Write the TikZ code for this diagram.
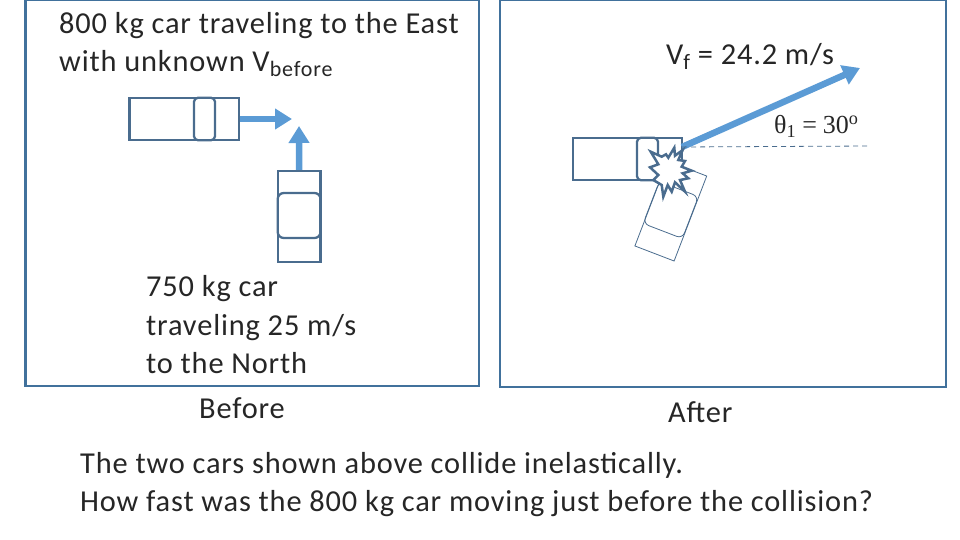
\documentclass[tikz,border=0pt]{standalone}
\usepackage{fontspec}
\setmainfont[LetterSpace=2.8]{Carlito}
\newfontfamily\symbfont{Liberation Serif}
\definecolor{framecol}{HTML}{41719C}
\definecolor{carcol}{HTML}{4A6C8E}
\definecolor{arrowcol}{HTML}{5B9BD5}
\usetikzlibrary{arrows.meta}
\newcommand{\lowtxt}[1]{\raisebox{-5pt}{\fontsize{22}{26}\selectfont\addfontfeature{LetterSpace=4}#1}}
\tikzset{
  txt/.style={anchor=base west,inner sep=0pt,font=\fontsize{30.4}{36}\selectfont,text=black!85},
  frame/.style={draw=framecol,line width=2.5pt,minimum width=#1,inner sep=0pt},
  car/.style={draw=carcol,line width=2.3pt,inner sep=0pt,minimum width=#1},
  thincar/.style={draw=carcol,line width=0.8pt,inner sep=0pt,minimum width=#1},
  velarrow/.style={draw=arrowcol,line width=6.5pt,-{Triangle[length=17pt,width=20pt]}},
}
\begin{document}
\begin{tikzpicture}[x=1pt,y=-1pt]
\useasboundingbox (0,0) rectangle (960,540);

% boxes
\node (before) [frame=453.5pt,minimum height=386pt] at (252.25,193) {};
\node (after) [frame=446pt,minimum height=387pt] at (723,193.5) {};

% cars before
\node (eastcar) [car=109.5pt,minimum height=42.5pt] at (184.25,119) {};
\node (eastwin) [car=21pt,minimum height=42.5pt,rounded corners=4pt] at (204.5,119) {};
\node (northcar) [car=42.8pt,minimum height=90.7pt] at (299.1,216.3) {};
\node (northwin) [car=42.8pt,minimum height=45pt,rounded corners=6pt] at (299.1,215.5) {};
\coordinate (eastend) at (292,119);
\coordinate (northend) at (299,126);
\draw [velarrow] (eastcar.east) -- (eastend);
\draw [velarrow] (northcar.north) -- (northend);

% cars after
\node (tiltcar) [thincar=42pt,minimum height=91pt,rotate=-21] at (670.8,211) {};
\node (tiltwin) [thincar=42pt,minimum height=45pt,rounded corners=6pt,rotate=-21] at (670.8,210) {};
\node (wreck) [car=109.5pt,minimum height=42.5pt] at (627.4,159) {};
\node (wreckwin) [car=21pt,minimum height=42.5pt,rounded corners=4pt] at (647.5,159) {};
\coordinate (hit) at (682,147);
\coordinate (finalend) at (860,68);
\coordinate (levelend) at (868,146);
\draw [velarrow] (hit) -- (finalend);
\draw [dash pattern=on 5pt off 4pt,draw=carcol,line width=0.8pt] (hit) -- (levelend);

% crash star
\draw [draw=carcol,line width=2.5pt,fill=white,line join=miter,miter limit=10]
  (650.7,151.7) -- (661.7,156.7) -- (666,154.3) -- (668.3,157.7) -- (674.3,147.7)
  -- (675,155.7) -- (682.7,150) -- (678.3,160) -- (685,161) -- (681.7,166.7)
  -- (691.7,170.7) -- (682.7,173.3) -- (688.3,178.3) -- (680,180) -- (685,191.7)
  -- (675,182.3) -- (671.7,191.7) -- (667.7,185) -- (663.3,196.7) -- (661.7,185)
  -- (653.3,180) -- (658.3,175) -- (650,167.3) -- (658.3,164.3) -- cycle;

% labels
\node (t1) [txt] at (59,34) {800 kg car traveling to the East};
\node (t2) [txt] at (59,72) {with unknown V\lowtxt{before}};
\node (t3) [txt] at (146,296) {750 kg car};
\node (t4) [txt] at (146,335) {traveling 25 m/s};
\node (t5) [txt] at (146,373) {to the North};
\node (t6) [txt] at (199,418) {Before};
\node (t7) [txt] at (666,65) {V\lowtxt{f} = 24.2 m/s};
\node (t8) [txt,font=\symbfont\fontsize{26}{30}\selectfont] at (774,134) {θ\textsubscript{1}\hspace{6pt}=\hspace{6pt}30\textsuperscript{o}};
\node (t9) [txt] at (668,422) {After};
\node (t10) [txt] at (80,473) {The two cars shown above collide inelastically.};
\node (t11) [txt] at (80,511) {How fast was the 800 kg car moving just before the collision?};

\end{tikzpicture}
\end{document}
